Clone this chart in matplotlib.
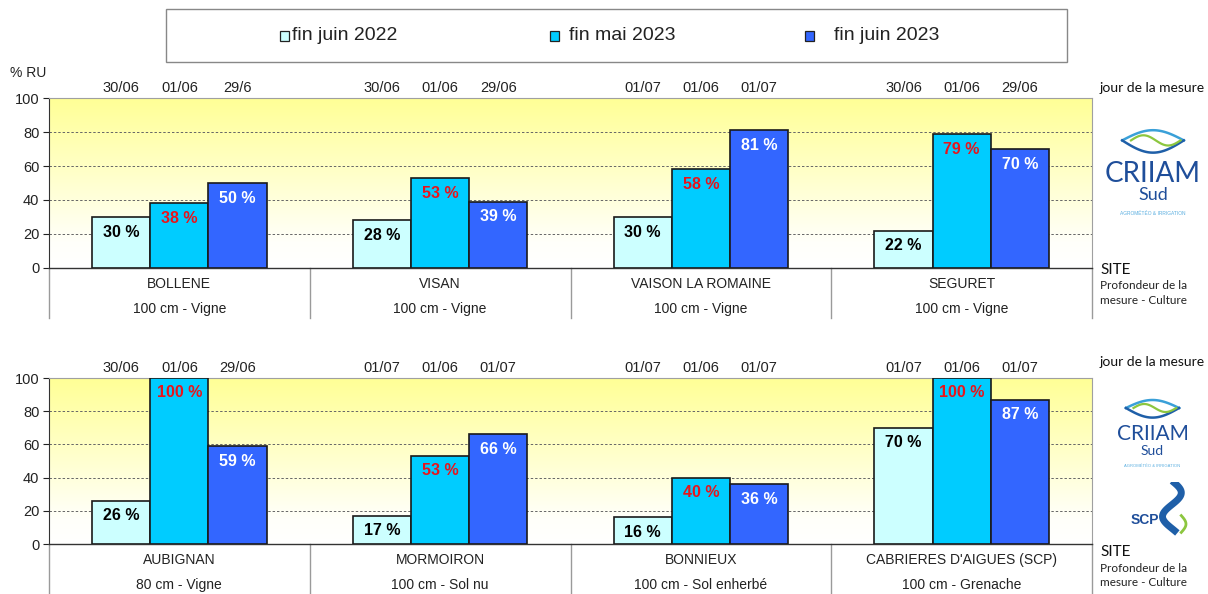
import matplotlib
matplotlib.use('Agg')
import matplotlib.pyplot as plt
from matplotlib.patches import Rectangle
import matplotlib.transforms as mtransforms
import numpy as np

plt.rcParams['font.family'] = ['Liberation Sans', 'DejaVu Sans']

# data
series = ['fin juin 2022', 'fin mai 2023', 'fin juin 2023']
colors = ['#CCFFFF', '#00CCFF', '#3366FF']
label_colors = ['black', '#E8141B', 'white']

sites_top = ['BOLLENE', 'VISAN', 'VAISON LA ROMAINE', 'SEGURET']
details_top = ['100 cm - Vigne', '100 cm - Vigne', '100 cm - Vigne', '100 cm - Vigne']
values_top = [[30, 28, 30, 22],
              [38, 53, 58, 79],
              [50, 39, 81, 70]]
dates_top = [['30/06', '30/06', '01/07', '30/06'],
             ['01/06', '01/06', '01/06', '01/06'],
             ['29/6', '29/06', '01/07', '29/06']]

sites_bot = ['AUBIGNAN', 'MORMOIRON', 'BONNIEUX', "CABRIERES D'AIGUES (SCP)"]
details_bot = ['80 cm - Vigne', '100 cm - Sol nu', '100 cm - Sol enherbé', '100 cm - Grenache']
values_bot = [[26, 17, 16, 70],
              [100, 53, 40, 100],
              [59, 66, 36, 87]]
dates_bot = [['30/06', '01/07', '01/07', '01/07'],
             ['01/06', '01/06', '01/06', '01/06'],
             ['29/06', '01/07', '01/07', '01/07']]

W, H = 1208, 594
fig = plt.figure(figsize=(W / 100, H / 100), dpi=100)


def px_box(x0, y0, x1, y1):
    """pixel box (top-left origin) -> figure fraction rect"""
    return [x0 / W, 1 - y1 / H, (x1 - x0) / W, (y1 - y0) / H]


def draw_panel(ax, sites, details, values, dates, hpx):
    x = np.arange(len(sites))
    bw = 0.223
    # yellow -> white gradient background
    grad = np.linspace(0, 1, 256).reshape(-1, 1)
    cmap = matplotlib.colors.LinearSegmentedColormap.from_list(
        'bg', [(0, '#FFFFFF'), (0.15, '#FFFFFA'), (0.6, '#FFFFC4'), (1, '#FFFF96')], N=256)
    ax.imshow(grad, aspect='auto', cmap=cmap, origin='lower',
              extent=[0, 1, 0, 1], transform=ax.transAxes, zorder=0)
    for i in range(3):
        pos = x + (i - 1) * bw
        ax.bar(pos, values[i], width=bw, color=colors[i], edgecolor='#1a1a1a',
               linewidth=1.2, zorder=3)
        for xp, v, d in zip(pos, values[i], dates[i]):
            ax.text(xp, v - 9, f'{v} %', ha='center', va='center',
                    fontsize=11.5, fontweight='bold', color=label_colors[i], zorder=4)
            ax.annotate(d, (xp, 1), xycoords=('data', 'axes fraction'),
                        xytext=(0, 2), textcoords='offset points',
                        ha='center', va='bottom', fontsize=10.5, color='#222222')
    ax.set_xlim(-0.5, len(sites) - 0.5)
    ax.set_ylim(0, 100)
    ax.set_yticks([0, 20, 40, 60, 80, 100])
    ax.tick_params(axis='y', labelsize=10.5, length=4, width=0.8, colors='#222222',
                   pad=3)
    ax.set_xticks([])
    for yv in [20, 40, 60, 80]:
        ax.axhline(yv, color='#666666', linestyle=(0, (2.5, 2)), linewidth=0.7, zorder=1)
    for s in ['top', 'right']:
        ax.spines[s].set_color('#A0A0A0')
    ax.spines['left'].set_color('#333333')
    ax.spines['bottom'].set_color('#333333')
    ax.spines['bottom'].set_linewidth(1.0)
    # category table below axis
    trans = mtransforms.blended_transform_factory(ax.transData, ax.transAxes)
    drop = 50 / hpx
    for sep in np.arange(len(sites) + 1) - 0.5:
        ax.plot([sep, sep], [0, -drop], transform=trans, color='#9A9A9A',
                linewidth=1.0, clip_on=False)
    for xi, s, d in zip(x, sites, details):
        ax.text(xi, -16 / hpx, s, transform=trans, ha='center', va='center',
                fontsize=10, color='#222222')
        ax.text(xi, -41 / hpx, d, transform=trans, ha='center', va='center',
                fontsize=10, color='#222222')


ax1 = fig.add_axes(px_box(49, 98, 1092, 268))
draw_panel(ax1, sites_top, details_top, values_top, dates_top, 170)
ax2 = fig.add_axes(px_box(49, 378, 1092, 544))
draw_panel(ax2, sites_bot, details_bot, values_bot, dates_bot, 166)

fig.text(10 / W, 1 - 73 / H, '% RU', fontsize=10, va='center', color='#222222')

# legend box
fig.patches.append(Rectangle((166 / W, 1 - 62 / H), 901 / W, 53 / H,
                             transform=fig.transFigure, facecolor='white',
                             edgecolor='#888888', linewidth=1.0))
for xm, xt, lab, c in zip([285, 555, 810], [292, 569, 834], series, colors):
    fig.patches.append(Rectangle(((xm - 5) / W, 1 - 41 / H), 9 / W, 10 / H,
                                 transform=fig.transFigure, facecolor=c,
                                 edgecolor='#222222', linewidth=0.9))
    fig.text(xt / W, 1 - 36 / H, lab, fontsize=14, va='center', color='#222222')

# right side notes
side = ['Lato', 'DejaVu Sans']
for y_jour, y_site in [(88, 270), (362, 552)]:
    fig.text(1100 / W, 1 - y_jour / H, 'jour de la mesure', family=side,
             fontsize=10, va='center', color='#111111')
    fig.text(1100 / W, 1 - y_site / H, 'SITE', family=side, fontsize=11,
             va='center', color='#111111')
    fig.text(1100 / W, 1 - (y_site + 16) / H, 'Profondeur de la', family=side,
             fontsize=8.5, va='center', color='#222222')
    fig.text(1100 / W, 1 - (y_site + 31) / H, 'mesure - Culture', family=side,
             fontsize=8.5, va='center', color='#222222')


def criiam_logo(x0, y0, x1, y1, big):
    lax = fig.add_axes(px_box(x0, y0, x1, y1))
    lax.set_xlim(0, 1)
    lax.set_ylim(0, 1)
    lax.axis('off')
    t = np.linspace(0, 1, 100)
    # two lens shaped loops, blue and green
    lax.plot(0.22 + 0.56 * t, 0.80 + 0.10 * np.sin(np.pi * t), color='#3AA0D8', lw=1.8)
    lax.plot(0.22 + 0.56 * t, 0.80 - 0.12 * np.sin(np.pi * t), color='#1F5FA8', lw=1.8)
    lax.plot(0.30 + 0.45 * t, 0.80 + 0.05 * np.sin(2 * np.pi * t), color='#8CC63F', lw=1.6)
    lax.text(0.5, 0.47, 'CRIIAM', ha='center', va='center', fontsize=20 if big else 15,
             color='#1F4E9A', family=['Lato', 'DejaVu Sans'])
    lax.text(0.5, 0.26, 'Sud', ha='center', va='center', fontsize=13 if big else 10,
             color='#1F4E9A', family=['Lato', 'DejaVu Sans'])
    lax.text(0.5, 0.08, 'AGROMÉTÉO & IRRIGATION', ha='center', va='center',
             fontsize=3.5 if big else 3, color='#5AAEE0')


criiam_logo(1098, 120, 1208, 222, True)
criiam_logo(1105, 392, 1200, 472, False)

# SCP logo
sax = fig.add_axes(px_box(1125, 482, 1192, 538))
sax.set_xlim(0, 1)
sax.set_ylim(0, 1)
sax.axis('off')
t = np.linspace(0, 1, 100)
sax.plot(0.70 + 0.14 * np.sin(2 * np.pi * t + 0.3), 0.98 - 0.85 * t, color='#1F5FA8', lw=5)
sax.plot(0.84 + 0.07 * np.sin(np.pi * t), 0.40 - 0.30 * t, color='#8CC63F', lw=2)
sax.text(0.30, 0.32, 'SCP', ha='center', va='center', fontsize=10, fontweight='bold',
         color='#1F4E9A')

fig.savefig('out.png', dpi=100)
